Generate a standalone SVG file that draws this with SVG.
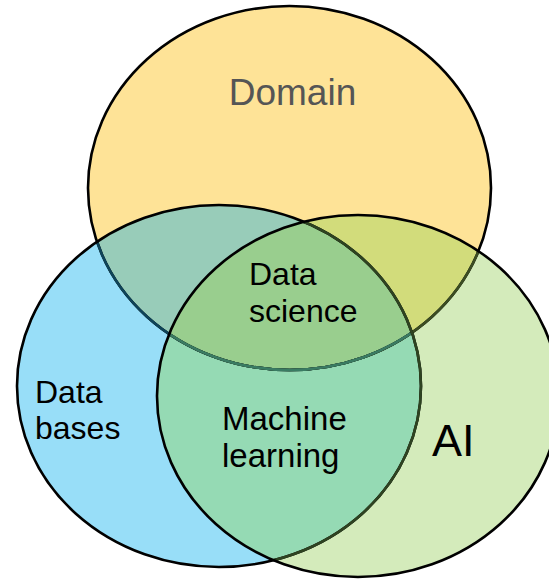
<svg xmlns="http://www.w3.org/2000/svg" xmlns:xlink="http://www.w3.org/1999/xlink" width="549" height="579" viewBox="0 0 549 579">
  <style>
    .lbl { font-family: "Liberation Sans", Arial, sans-serif; fill: #000; }
    .ring { fill: none; stroke-width: 2.6; }
  </style>
  <defs>
    <ellipse id="eD" cx="289.5" cy="188" rx="201.5" ry="182"/>
    <ellipse id="eB" cx="219" cy="386" rx="202" ry="181"/>
    <ellipse id="eA" cx="358" cy="396" rx="201" ry="181"/>
    <clipPath id="cD"><ellipse cx="289.5" cy="188" rx="201.5" ry="182"/></clipPath>
    <clipPath id="cB"><ellipse cx="219" cy="386" rx="202" ry="181"/></clipPath>
    <clipPath id="cA"><ellipse cx="358" cy="396" rx="201" ry="181"/></clipPath>
  </defs>

  <!-- base set fills -->
  <g id="fills">
    <use xlink:href="#eD" fill="#FEE397"/>
    <use xlink:href="#eB" fill="#98DEF8"/>
    <use xlink:href="#eA" fill="#D4EBBB"/>
    <g clip-path="url(#cD)">
      <use xlink:href="#eB" fill="#98CCB9"/>
      <use xlink:href="#eA" fill="#D2DC7B"/>
    </g>
    <g clip-path="url(#cB)">
      <use xlink:href="#eA" fill="#95DAB4"/>
    </g>
    <g clip-path="url(#cD)">
      <g clip-path="url(#cB)">
        <use xlink:href="#eA" fill="#99CE8E"/>
      </g>
    </g>
  </g>

  <!-- outlines; earlier rings are tinted where later sets cover them -->
  <g id="node-domain">
    <use xlink:href="#eD" class="ring" stroke="#000"/>
    <g clip-path="url(#cB)"><use xlink:href="#eD" class="ring" stroke="#0E4459"/></g>
    <g clip-path="url(#cA)"><use xlink:href="#eD" class="ring" stroke="#3B4D22"/></g>
    <g clip-path="url(#cA)"><g clip-path="url(#cB)"><use xlink:href="#eD" class="ring" stroke="#3A7B63"/></g></g>
    <text class="lbl" x="292.5" y="105" font-size="37" text-anchor="middle" style="fill:#555">Domain</text>
  </g>

  <g id="node-databases">
    <use xlink:href="#eB" class="ring" stroke="#000"/>
    <g clip-path="url(#cA)"><use xlink:href="#eB" class="ring" stroke="#2E4321"/></g>
    <text class="lbl" font-size="32"><tspan x="35" y="403">Data</tspan><tspan x="35" y="439">bases</tspan></text>
  </g>

  <g id="node-ai">
    <use xlink:href="#eA" class="ring" stroke="#000"/>
    <text class="lbl" x="432" y="456" font-size="45">AI</text>
  </g>

  <g id="node-datascience">
    <text class="lbl" font-size="32"><tspan x="249" y="285">Data</tspan><tspan x="249" y="322">science</tspan></text>
  </g>

  <g id="node-machinelearning">
    <text class="lbl" font-size="33"><tspan x="222" y="430">Machine</tspan><tspan x="222" y="467">learning</tspan></text>
  </g>
</svg>
